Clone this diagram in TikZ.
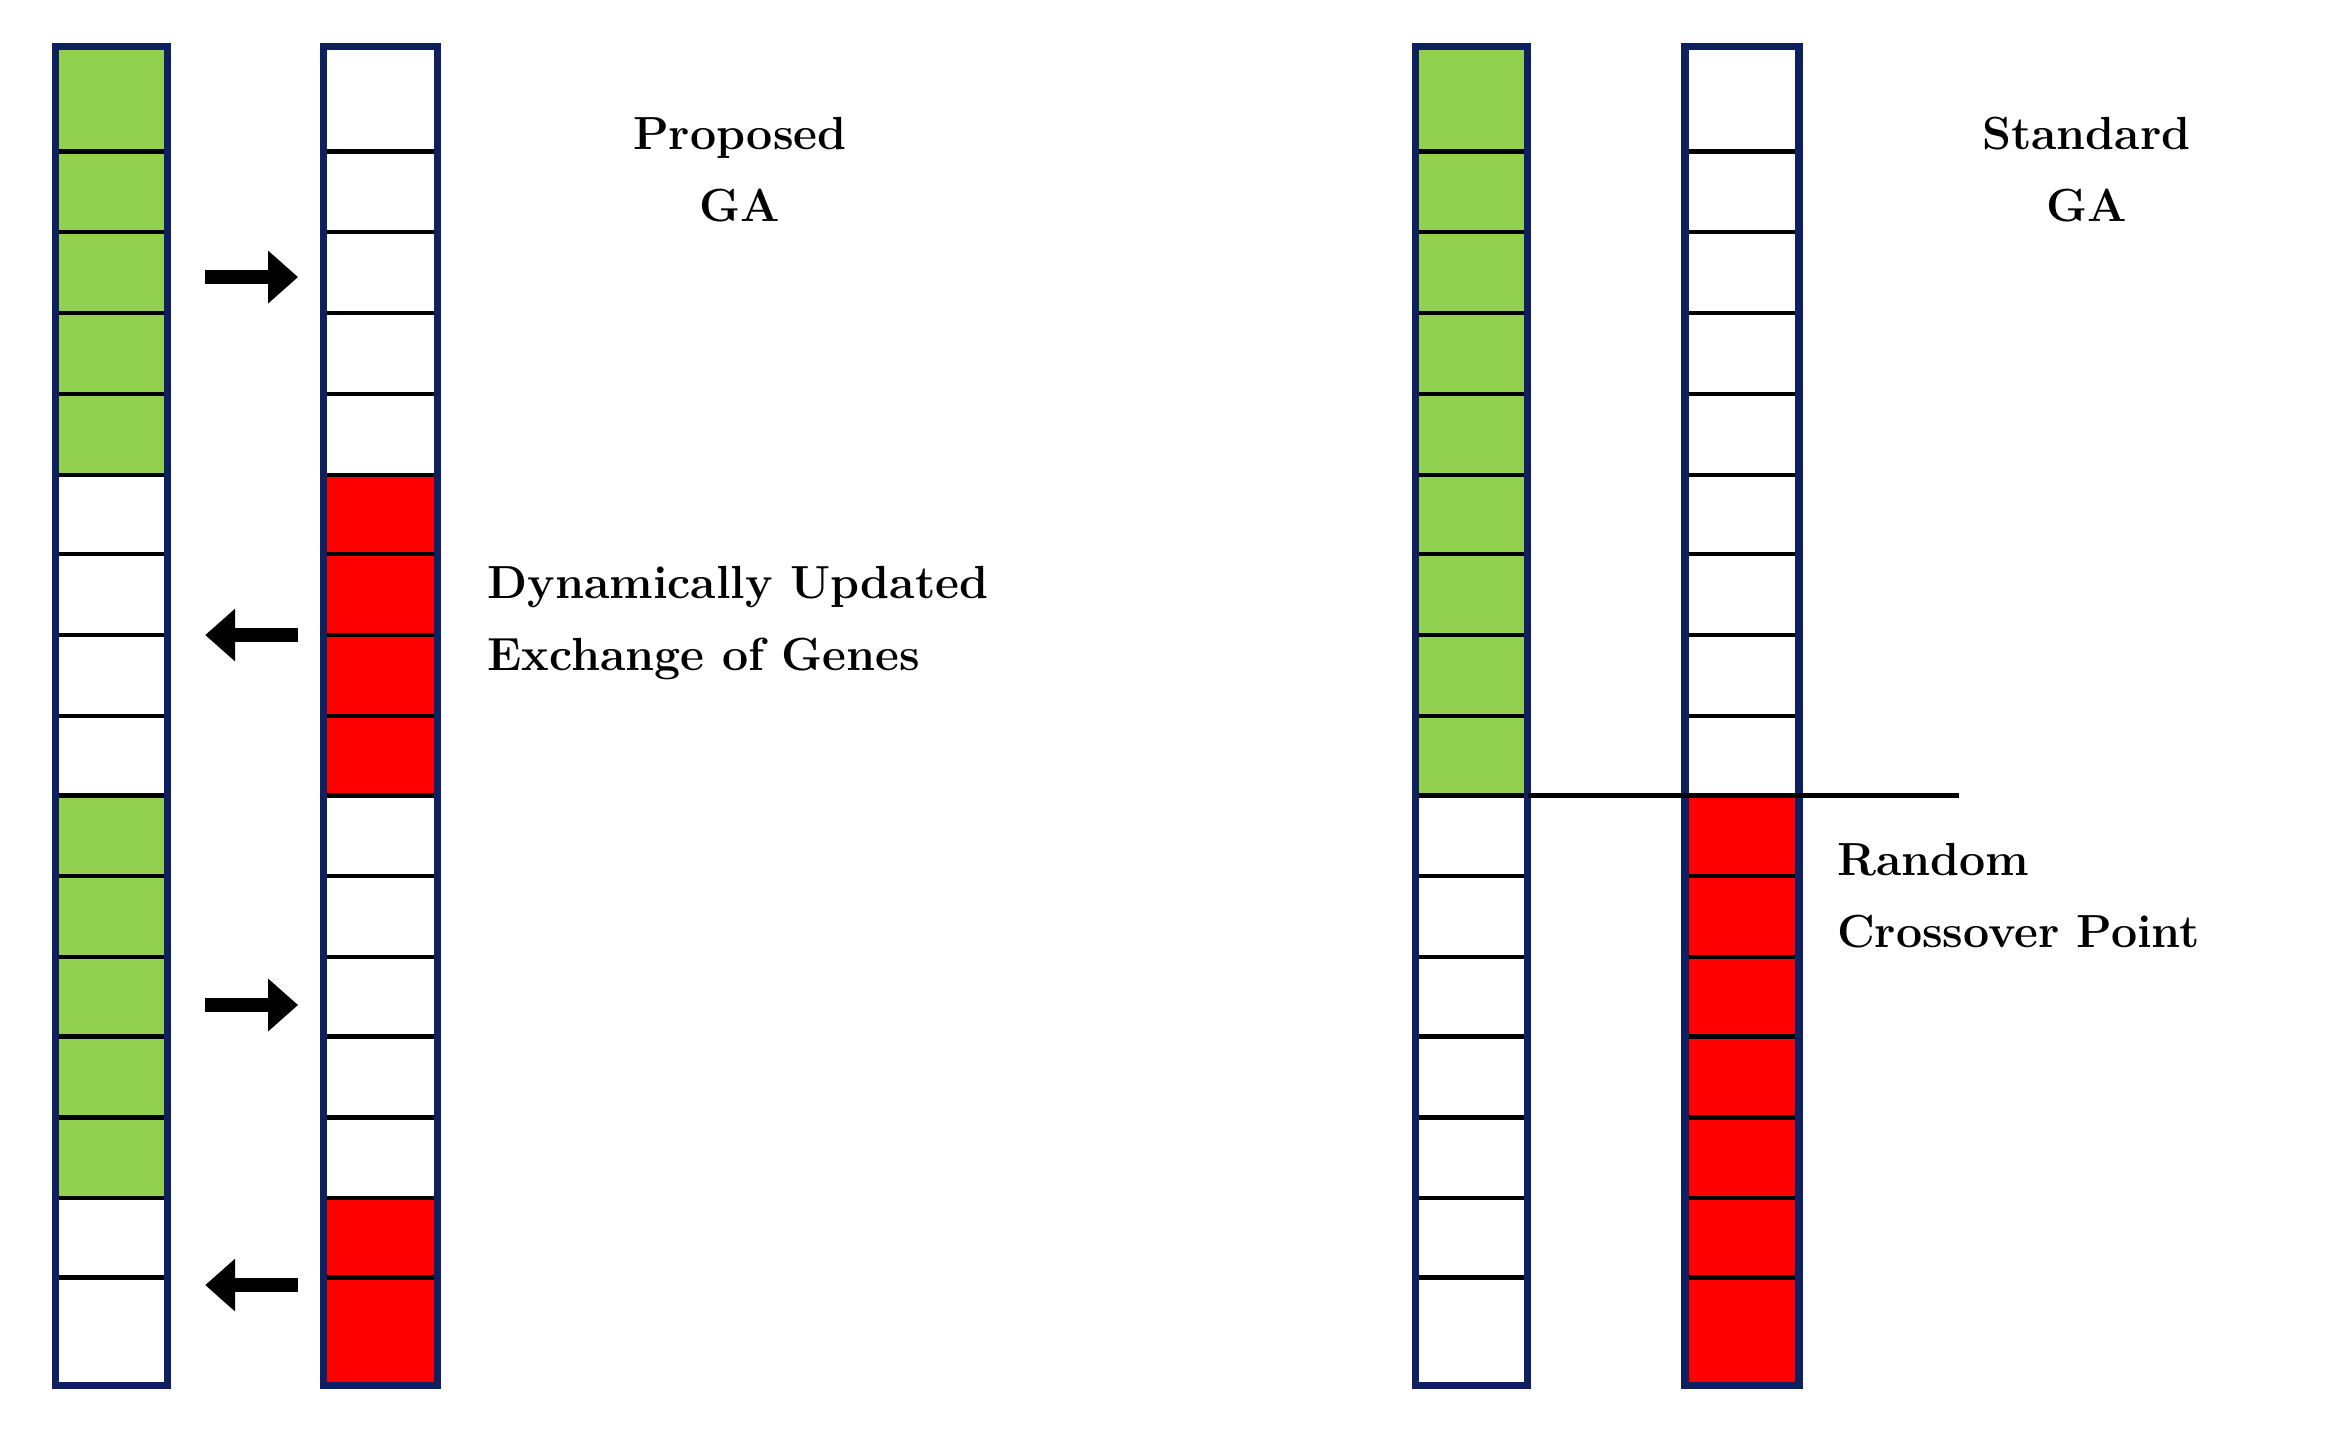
\documentclass[tikz,border=0pt]{standalone}
\usetikzlibrary{arrows.meta}
\definecolor{gn}{HTML}{92D050}
\definecolor{rd}{HTML}{FF0000}
\definecolor{nv}{HTML}{0E2060}
\begin{document}
\begin{tikzpicture}[x=1pt,y=-1pt,
  cellline/.style={line width=3pt,black},
  colframe/.style={line width=5pt,nv},
  blockarrow/.style={line width=9pt,-{Triangle[length=20pt,width=34pt]}},
  lbl/.style={font=\fontsize{31}{48}\selectfont\bfseries,align=left,anchor=west}]
\useasboundingbox (0,0) rectangle (1563,955);
\def\bounds{{31,101,155,209,263,317,370,424,478,531,585,639,692,746,800,853,925}}
\newcommand\gacolumn[3]{%
  \foreach \c [count=\i from 0] in {#3}{%
    \pgfmathsetmacro\ya{\bounds[\i]}\pgfmathsetmacro\yb{\bounds[\i+1]}%
    \fill[\c] (#1,\ya) rectangle (#2,\yb);}%
  \foreach \i in {1,...,15}{\pgfmathsetmacro\ya{\bounds[\i]}\draw[cellline] (#1,\ya) -- (#2,\ya);}%
  \draw[colframe] (#1,31) rectangle (#2,925);}
\gacolumn{37}{112}{gn,gn,gn,gn,gn,white,white,white,white,gn,gn,gn,gn,gn,white,white}
\gacolumn{216}{292}{white,white,white,white,white,rd,rd,rd,rd,white,white,white,white,white,rd,rd}
\gacolumn{945}{1020}{gn,gn,gn,gn,gn,gn,gn,gn,gn,white,white,white,white,white,white,white}
\gacolumn{1125}{1201}{white,white,white,white,white,white,white,white,white,rd,rd,rd,rd,rd,rd,rd}
\coordinate (cx1) at (1020,531); \coordinate (cx2) at (1308,531);
\draw[cellline] (cx1) -- (cx2);
\coordinate (a1s) at (137,185); \coordinate (a1e) at (199,185);
\coordinate (a2s) at (199,424); \coordinate (a2e) at (137,424);
\coordinate (a3s) at (137,671); \coordinate (a3e) at (199,671);
\coordinate (a4s) at (199,858); \coordinate (a4e) at (137,858);
\draw[blockarrow] (a1s) -- (a1e);
\draw[blockarrow] (a2s) -- (a2e);
\draw[blockarrow] (a3s) -- (a3e);
\draw[blockarrow] (a4s) -- (a4e);
\node[lbl,align=center,anchor=center] (prop) at (494,113) {Proposed\\GA};
\node[lbl,align=center,anchor=center] (std) at (1393,113) {Standard\\GA};
\node[lbl] (dyn) at (322,416) {Dynamically Updated\\Exchange of Genes};
\node[lbl] (rnd) at (1223,598) {Random\\Crossover Point};
\end{tikzpicture}
\end{document}
